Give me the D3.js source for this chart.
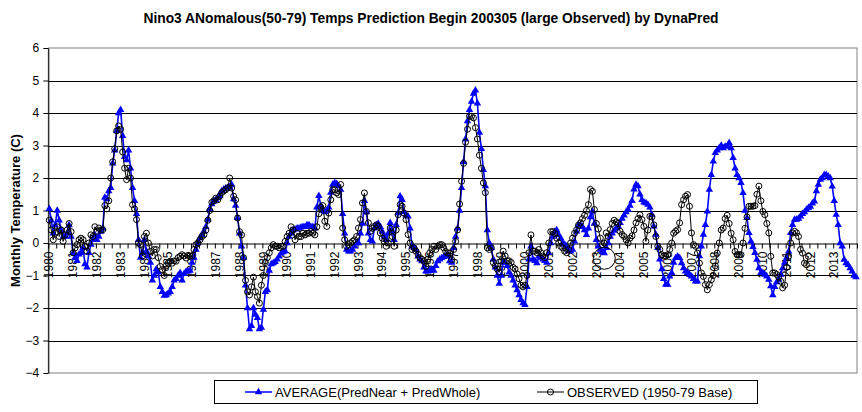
<!DOCTYPE html>
<html>
<head>
<meta charset="utf-8">
<script src="https://cdn.jsdelivr.net/npm/d3@7"></script>
<style>
  body { margin: 0; background: #fff; }
  svg { display: block; font-family: "Liberation Sans", Arial, sans-serif; }
</style>
</head>
<body>
<div id="chart"></div>
<script>
// Data (monthly, Jan 1980 onwards)
const yearLabels = ['1980','1981','1982','1983','1984','1985','1986','1987','1988','1989',
  '1990','1991','1992','1993','1994','1995','1996','1997','1998','1999',
  '2000','2001','2002','2003','2004','2005','2006','2007','2008','2009',
  '2010','2011','2012','2013']
const yTicks = [-4, -3, -2, -1, 0, 1, 2, 3, 4, 5, 6]

// AVERAGE(PredNear + PredWhole)
const avg80s = [
  1.05, 0.7, 0.3, 0.55, 1.0, 0.7, 0.4, 0.2, 0.2, 0.3, 0.55, 0.2,
  -0.3, -0.45, -0.55, -0.35, -0.3, -0.15, -0.65, -0.75, -0.3, -0.05, 0.1, 0.25,
  0.1, 0.2, 0.35, 0.45, 1.4, 1.35, 1.6, 1.7, 2.45, 2.85, 3.45, 4.0,
  4.1, 3.3, 2.65, 2.55, 2.85, 2.3, 1.7, 1.3, 0.9, 0.1, -0.45, -0.3,
  0.1, -0.25, -0.4, -0.6, -1.15, -1.0, -0.8, -0.9, -1.35, -1.5, -1.62, -1.6,
  -1.55, -1.5, -1.35, -1.15, -1.1, -1.0, -0.92, -1.15, -0.95, -0.88, -0.87, -0.85,
  -0.6, -0.45, -0.2, 0.0, 0.15, 0.25, 0.35, 0.5, 0.72, 1.05, 1.2, 1.28,
  1.33, 1.4, 1.45, 1.6, 1.65, 1.68, 1.7, 1.72, 1.8, 1.35, 1.15, 0.77,
  0.3, -0.1, -0.45, -1.3, -2.0, -2.65, -2.55, -2.0, -2.2, -2.3, -2.65, -2.6,
  -2.05, -1.5, -1.45, -0.85, -0.65, -0.62, -0.58, -0.5, -0.41, -0.32, -0.28, -0.25
]
const avg90s = [
  0.0, 0.2, 0.3, 0.4, 0.42, 0.45, 0.45, 0.48, 0.5, 0.5, 0.55, 0.55,
  0.5, 0.5, 0.45, 1.1, 1.45, 1.15, 1.0, 0.95, 1.0, 1.1, 1.55, 1.8,
  1.85, 1.82, 1.75, 1.64, 0.9, 0.3, -0.2, -0.26, -0.26, -0.2, -0.1, 0.0,
  0.0, 0.3, 0.6, 1.3, 0.95, 0.3, 0.1, 0.05, 0.45, 0.55, 0.6, 0.5,
  0.35, 0.2, 0.1, 0.3, 0.62, 0.36, 0.1, 0.56, 0.92, 1.44, 1.33, 0.95,
  0.85, 0.82, 0.45, -0.1, -0.15, -0.2, -0.41, -0.5, -0.56, -0.75, -0.87, -0.87,
  -0.85, -0.82, -0.85, -0.7, -0.56, -0.5, -0.46, -0.43, -0.41, -0.38, -0.56, -0.6,
  -0.15, 0.2, 0.45, 1.0, 1.7, 2.5, 3.2, 3.75, 4.1, 4.35, 4.6, 4.7,
  4.3, 3.4, 2.9, 2.25, 1.75, 0.4, 0.0, -0.15, -0.5, -0.75, -1.0, -1.25,
  -1.0, -0.6, -0.6, -0.7, -0.9, -1.0, -1.15, -1.3, -1.45, -1.6, -1.75, -1.85
]
const avg00s = [
  -1.9, -1.35, -0.5, -0.1, -0.5, -0.55, -0.62, -0.41, -0.45, -0.5, -0.55, -0.6,
  -0.3, 0.0, 0.2, 0.35, 0.4, 0.25, 0.15, 0.0, -0.05, -0.1, -0.25, -0.25,
  -0.2, 0.05, 0.36, 0.56, 0.55, 0.5, 0.4, 0.25, 0.45, 0.8, 0.97, 0.6,
  0.1, -0.1, -0.2, -0.28, -0.31, -0.15, 0.0, 0.2, 0.3, 0.38, 0.45, 0.52,
  0.62, 0.75, 0.85, 0.95, 1.03, 1.15, 1.3, 1.65, 1.8, 1.75, 1.5, 1.33,
  1.25, 1.23, 1.18, 1.1, 0.87, 0.51, 0.26, -0.15, -0.5, -0.8, -1.1, -1.28,
  -1.28, -1.03, -0.92, -0.6, -0.46, -0.41, -0.46, -0.62, -0.77, -0.87, -0.92, -0.97,
  -1.03, -1.1, -1.18, -1.18, -0.4, -0.1, 0.26, 0.56, 0.97, 1.64, 2.1, 2.51,
  2.77, 2.85, 2.92, 3.0, 2.92, 2.97, 2.97, 3.08, 2.92, 2.62, 2.3, 2.1,
  2.0, 1.85, 1.54, 1.0, 0.77, 0.31, 0.05, -0.12, -0.3, -0.51, -0.77, -0.92
]
const avg10s = [
  -0.92, -0.97, -1.03, -1.13, -1.33, -1.6, -1.35, -1.2, -1.13, -0.97, -0.77, -0.6,
  -0.45, -0.26, 0.31, 0.56, 0.72, 0.72, 0.75, 0.82, 0.9, 0.95, 1.03, 1.08,
  1.12, 1.22, 1.28, 1.6, 1.8, 1.95, 2.0, 2.1, 2.1, 2.05, 2.0, 1.74,
  1.3, 0.87, 0.56, 0.0, -0.1, -0.51, -0.62, -0.67, -0.77, -0.87, -1.0, -1.05
]

// OBSERVED (1950-79 Base)
const obs80s = [
  0.7, 0.4, 0.1, 0.3, 0.5, 0.2, 0.4, 0.05, 0.25, 0.4, 0.6, 0.35,
  -0.3, -0.15, -0.05, 0.1, 0.15, 0.1, -0.1, -0.25, 0.0, 0.25, 0.2, 0.5,
  0.36, 0.46, 0.4, 0.41, 1.15, 1.05, 1.3, 2.0, 2.5, 2.9, 3.45, 3.6,
  3.5, 2.8, 2.3, 1.95, 2.3, 2.0, 1.18, 1.05, 0.72, 0.0, -0.05, -0.4,
  0.2, 0.3, 0.0, -0.26, -0.4, -0.2, -0.2, -0.45, -0.72, -0.82, -1.0, -0.7,
  -0.62, -0.56, -0.62, -0.55, -0.56, -0.45, -0.41, -0.36, -0.4, -0.46, -0.38, -0.4,
  -0.4, -0.2, -0.05, 0.0, 0.1, 0.2, 0.25, 0.4, 0.7, 1.0, 1.25, 1.3,
  1.38, 1.33, 1.44, 1.55, 1.6, 1.64, 1.7, 2.0, 1.69, 1.44, 1.33, 0.77,
  0.35, 0.25, -0.45, -1.15, -1.5, -1.6, -1.35, -1.05, -1.5, -1.65, -1.85, -1.3,
  -1.0, -0.6, -0.45, -0.3, -0.15, -0.05, -0.1, -0.1, -0.15, -0.1, -0.1, 0.05
]
const obs90s = [
  0.2, 0.3, 0.5, 0.4, 0.1, 0.3, 0.2, 0.2, 0.3, 0.25, 0.3, 0.3,
  0.35, 0.3, 0.25, 0.5, 0.9, 1.1, 1.15, 0.67, 0.51, 0.92, 1.33, 1.64,
  1.64, 1.54, 1.49, 1.8, 0.46, 0.1, -0.1, -0.05, 0.0, 0.05, 0.1, 0.2,
  0.46, 0.72, 1.23, 1.54, 0.97, 0.62, 0.36, 0.45, 0.51, 0.56, 0.51, 0.31,
  0.15, 0.05, -0.1, 0.0, 0.46, 0.2, -0.1, 0.4, 0.87, 1.18, 1.13, 0.92,
  0.72, 0.26, 0.0, -0.2, -0.15, -0.25, -0.35, -0.45, -0.5, -0.56, -0.72, -0.5,
  -0.3, -0.2, -0.1, -0.2, -0.1, -0.05, -0.05, -0.15, -0.26, -0.31, -0.31, -0.51,
  -0.2, 0.05, 0.4, 1.2, 1.9, 2.45, 3.1, 3.5, 3.9, 3.9, 3.85, 3.55,
  3.2, 2.7, 2.3, 1.85, 1.55, -0.15, -0.2, -0.15, -0.6, -0.7, -0.8, -0.9,
  -0.55, -0.25, -0.4, -0.55, -0.55, -0.6, -0.75, -0.8, -0.95, -1.1, -1.3, -1.35
]
const obs00s = [
  -1.3, -1.0, -0.3, 0.25, -0.25, -0.25, -0.3, -0.2, -0.3, -0.4, -0.45, -0.3,
  0.0, 0.35, 0.35, 0.3, 0.15, 0.0, -0.1, -0.15, -0.25, -0.3, -0.2, 0.0,
  0.15, 0.3, 0.4, 0.55, 0.62, 0.75, 0.85, 1.0, 1.18, 1.65, 1.59, 1.03,
  0.6, 0.43, 0.15, -0.05, 0.0, 0.31, 0.2, 0.41, 0.6, 0.7, 0.65, 0.6,
  0.36, 0.26, 0.2, 0.1, 0.0, 0.15, 0.22, 0.4, 0.62, 0.75, 0.87, 0.72,
  0.51, 0.05, 0.4, 0.82, 0.8, 0.56, 0.2, -0.1, -0.2, -0.36, -0.4, -0.4,
  -0.36, -0.2, 0.0, 0.3, 0.36, 0.41, 0.62, 1.18, 1.33, 1.44, 1.49, 1.13,
  0.31, -0.05, -0.1, -0.31, -0.62, -0.92, -1.03, -1.28, -1.44, -1.28, -1.13, -1.0,
  -0.7, -0.31, 0.0, 0.4, 0.46, 0.75, 0.85, 0.6, 0.3, 0.1, -0.26, -0.36,
  -0.36, -0.36, 0.0, 0.45, 0.8, 1.13, 1.13, 1.13, 1.15, 1.5, 1.75, 1.3
]
const obs10s = [
  0.97, 0.87, 0.6, 0.31, -0.41, -0.92, -0.92, -0.97, -1.05, -1.18, -1.38, -1.3,
  -0.75, -0.41, 0.0, 0.31, 0.36, 0.31, 0.2, -0.2, -0.31, -0.62, -0.67, -0.41
]

// prediction start, shown as a large observed marker
const predStart = { year: 2003, month: 5, value: -0.47 }

const average = [...avg80s, ...avg90s, ...avg00s, ...avg10s]
const observed = [...obs80s, ...obs90s, ...obs00s, ...obs10s]

// Dimensions
const dimensions = {
  width: 862,
  height: 412,
  left: 48.3,
  right: 857,
  top: 48,
  bottom: 373
}

const svg = d3.select('#chart')
  .append('svg')
  .attr('width', dimensions.width)
  .attr('height', dimensions.height)

// Scales
const months = d3.range(average.length)
const xScale = d3.scaleBand()
  .domain(months)
  .range([dimensions.left, dimensions.right])
const xEdge = d3.scaleLinear()   // category boundaries, for the tick marks
  .domain([0, months.length])
  .range([dimensions.left, dimensions.right])
const yScale = d3.scaleLinear()
  .domain([-4, 6])
  .range([dimensions.bottom, dimensions.top])
const xc = i => xScale(i) + xScale.bandwidth() / 2

// Title
svg.append('text')
  .attr('x', 431)
  .attr('y', 23)
  .attr('text-anchor', 'middle')
  .style('font-size', '13.8px')
  .style('font-weight', 'bold')
  .text('Nino3 ANomalous(50-79) Temps Prediction Begin 200305 (large Observed) by DynaPred')

// Y title
svg.append('text')
  .attr('transform', `translate(20, ${(dimensions.top + dimensions.bottom) / 2}) rotate(-90)`)
  .attr('text-anchor', 'middle')
  .style('font-size', '13px')
  .style('font-weight', 'bold')
  .text('Monthly Temperature (C)')

// Plot frame + gridlines
svg.append('rect')
  .attr('x', dimensions.left)
  .attr('y', dimensions.top)
  .attr('width', dimensions.right - dimensions.left)
  .attr('height', dimensions.bottom - dimensions.top)
  .attr('fill', 'none')
  .attr('stroke', '#808080')

svg.append('g')
  .selectAll('line')
  .data(yTicks.filter(t => t > -4 && t < 6 && t !== 0))
  .join('line')
  .attr('x1', dimensions.left)
  .attr('x2', dimensions.right)
  .attr('y1', d => Math.round(yScale(d)) + 0.5)
  .attr('y2', d => Math.round(yScale(d)) + 0.5)
  .attr('stroke', '#000')

// Y axis
const yAxis = d3.axisLeft(yScale)
  .tickValues(yTicks)
  .tickSize(5)
  .tickPadding(4)
  .tickSizeOuter(0)
svg.append('g')
  .attr('transform', `translate(${dimensions.left}, 0)`)
  .call(yAxis)
  .call(g => g.selectAll('text').style('font-size', '12px').attr('fill', '#000'))

// X axis at zero: tick marks every 4 months
const zeroY = Math.round(yScale(0)) + 0.5
const xTicks = d3.axisBottom(xEdge)
  .tickValues(d3.range(0, months.length + 1, 4))
  .tickSize(5)
  .tickSizeOuter(0)
  .tickFormat('')
svg.append('g')
  .attr('transform', `translate(0, ${zeroY})`)
  .call(xTicks)

// Year labels, rotated
const xLabels = d3.axisBottom(xScale)
  .tickValues(yearLabels.map((d, k) => k * 12))
  .tickFormat(i => yearLabels[i / 12])
  .tickSize(0)
svg.append('g')
  .attr('transform', `translate(0, ${zeroY})`)
  .call(xLabels)
  .call(g => g.select('.domain').remove())
  .call(g => g.selectAll('text')
    .attr('transform', 'rotate(-90)')
    .attr('text-anchor', 'end')
    .attr('x', -8)
    .attr('y', 0)
    .attr('dy', '0.35em')
    .style('font-size', '12px')
    .attr('fill', '#000'))

// Series: AVERAGE
const line = d3.line()
  .x((d, i) => xc(i))
  .y(d => yScale(d))

svg.append('path')
  .datum(average)
  .attr('d', line)
  .attr('fill', 'none')
  .attr('stroke', '#0000ff')
  .attr('stroke-width', 1.6)

const tri = d3.symbol().type(d3.symbolTriangle).size(24)
svg.append('g')
  .selectAll('path')
  .data(average)
  .join('path')
  .attr('d', tri)
  .attr('transform', (d, i) => `translate(${xc(i)}, ${yScale(d)})`)
  .attr('fill', '#0000ff')

// Series: OBSERVED
svg.append('path')
  .datum(observed)
  .attr('d', line)
  .attr('fill', 'none')
  .attr('stroke', '#000')
  .attr('stroke-width', 1)

svg.append('g')
  .selectAll('circle')
  .data(observed)
  .join('circle')
  .attr('cx', (d, i) => xc(i))
  .attr('cy', d => yScale(d))
  .attr('r', 3)
  .attr('fill', 'none')
  .attr('stroke', '#000')

const startIdx = (predStart.year - 1980) * 12 + predStart.month - 1
svg.append('circle')
  .attr('cx', xc(startIdx))
  .attr('cy', yScale(predStart.value))
  .attr('r', 11)
  .attr('fill', 'none')
  .attr('stroke', '#000')

// Legend
const legend = svg.append('g')
legend.append('rect')
  .attr('x', 214.5)
  .attr('y', 380.5)
  .attr('width', 543)
  .attr('height', 23)
  .attr('fill', '#fff')
  .attr('stroke', '#000')

const legendItems = [
  { label: 'AVERAGE(PredNear + PredWhole)', x: 245, color: '#0000ff', kind: 'tri' },
  { label: 'OBSERVED (1950-79 Base)', x: 537, color: '#000', kind: 'circle' }
]
const li = legend.selectAll('g.item')
  .data(legendItems)
  .join('g')
  .attr('class', 'item')
  .attr('transform', d => `translate(${d.x}, 392)`)
li.append('line')
  .attr('x1', 0).attr('x2', 27)
  .attr('stroke', d => d.color)
  .attr('stroke-width', d => d.kind === 'tri' ? 1.5 : 1)
li.filter(d => d.kind === 'tri').append('path')
  .attr('d', tri)
  .attr('transform', 'translate(13.5, 0)')
  .attr('fill', '#0000ff')
li.filter(d => d.kind === 'circle').append('circle')
  .attr('cx', 13.5).attr('r', 3)
  .attr('fill', 'none').attr('stroke', '#000')
li.append('text')
  .attr('x', 30)
  .attr('y', 5)
  .style('font-size', '13px')
  .text(d => d.label)
</script>
</body>
</html>
